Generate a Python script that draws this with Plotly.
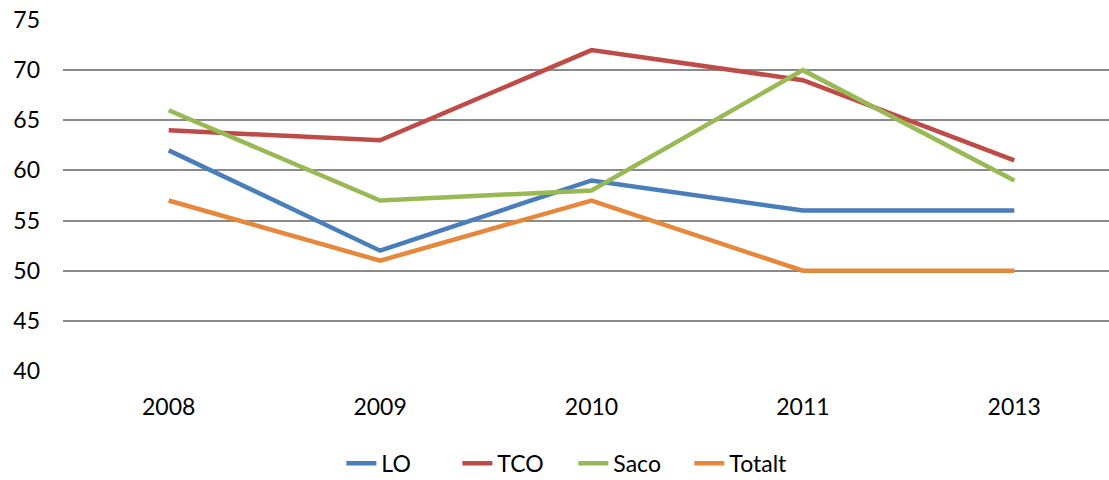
import plotly.graph_objects as go

years = ["2008", "2009", "2010", "2011", "2013"]
lo = [62, 52, 59, 56, 56]
tco = [64, 63, 72, 69, 61]
saco = [66, 57, 58, 70, 59]
totalt = [57, 51, 57, 50, 50]

series = [
    ("LO", lo, "#4A7EBB"),
    ("TCO", tco, "#BE4B48"),
    ("Saco", saco, "#98B954"),
    ("Totalt", totalt, "#E6883B"),
]

font_family = "Lato, 'Open Sans', sans-serif"

fig = go.Figure()
for name, vals, col in series:
    fig.add_trace(go.Scatter(
        x=list(range(len(years))), y=vals, name=name, mode="lines",
        line=dict(color=col, width=4.5),
    ))

fig.update_layout(
    width=1109, height=480,
    margin=dict(l=63, r=0, t=20, b=109, autoexpand=False),
    paper_bgcolor="white", plot_bgcolor="white",
    font=dict(family=font_family, size=23, color="#000000"),
    showlegend=True,
    legend=dict(
        orientation="h", xref="container", yref="container",
        x=0.517, xanchor="center", y=0.035, yanchor="middle",
        font=dict(size=23), itemwidth=30, traceorder="normal",
        entrywidth=71, entrywidthmode="pixels",
    ),
    xaxis=dict(
        tickmode="array", tickvals=list(range(len(years))), ticktext=years,
        range=[-0.5, 4.448], showgrid=False, zeroline=False, showline=False,
        ticks="", ticklabelstandoff=20, fixedrange=True, automargin=False,
    ),
    yaxis=dict(
        range=[40, 75], dtick=5, tick0=40, showgrid=True,
        gridcolor="#8A8A8A", gridwidth=1.6, zeroline=False, showline=False,
        ticks="", ticklabelstandoff=22, fixedrange=True, automargin=False,
    ),
)

fig.write_html(
    "out.html",
    config={"displayModeBar": False},
    post_script="document.body.style.margin='0';document.body.style.overflow='hidden';",
)
